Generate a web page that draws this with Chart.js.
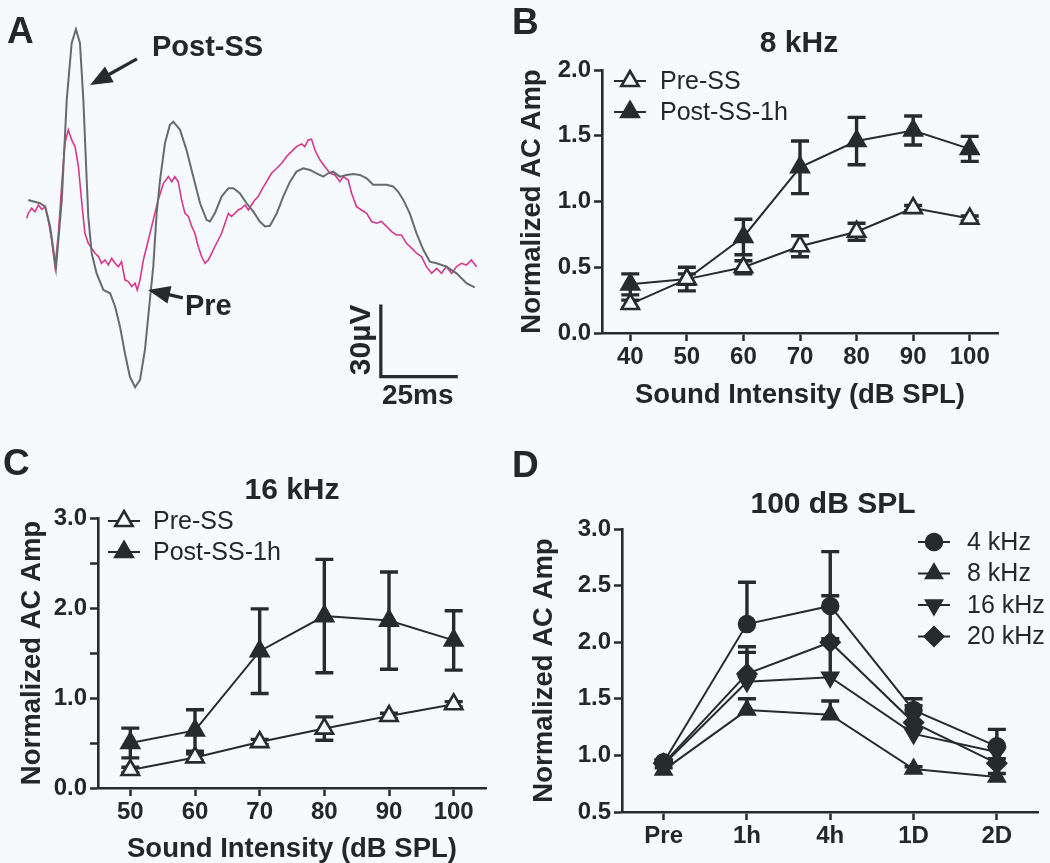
<!DOCTYPE html>
<html><head><meta charset="utf-8">
<script src="https://cdn.jsdelivr.net/npm/chart.js@4.4.1/dist/chart.umd.min.js"></script>
<style>
html,body{margin:0;padding:0;background:#f7fafc;}
#wrap{position:relative;width:1050px;height:863px;overflow:hidden;background:#f7fafc;}
canvas{position:absolute;}
</style></head><body>
<div id="wrap">
<canvas id="cA" width="500" height="420" style="left:0;top:0"></canvas>
<canvas id="cB" width="550" height="420" style="left:500px;top:0"></canvas>
<canvas id="cC" width="500" height="443" style="left:0;top:420px"></canvas>
<canvas id="cD" width="550" height="443" style="left:500px;top:420px"></canvas>
</div>
<script>
// ---------- Panel A: evoked responses (time in ms, amplitude in µV) ----------
const postTime = [0.5,4.3,6.0,7.6,9.5,11.4,13.0,14.6,16.0,17.3,
 18.4,19.3,20.0,21.1,22.7,24.9,27.1,28.7,30.3,31.9,
 33.5,35.2,36.8,38.4,40.0,41.1,42.2,43.3,44.9,46.5,
 47.6,49.8,51.9,54.1,56.3,58.4,59.5,61.1,63.3,65.5,
 67.1,69.2,71.4,73.6,75.7,77.4,79.0,81.2,83.3,85.5,
 87.6,89.8,92.0,94.1,96.3,97.9,99.5,101.7,103.9,106.0,
 108.2,110.4,112.5,114.7,116.9,119.0,120.6,122.3,124.4,126.6,
 128.8,130.9,133.1,136.3,139.6,142.8,145.5];
const postAmp = [0,-1.4,-2.8,-11.1,-28.5,0,41.7,65.3,71.1,65.3,
 41.7,13.9,-6.9,-22.2,-30.6,-37.5,-38.9,-44.4,-52.8,-63.9,
 -73.6,-78.1,-75.0,-62.5,-41.7,-27.8,-5.6,8.3,23.6,31.3,
 32.6,29.2,20.8,9.7,-1.4,-8.3,-9.0,-5.6,1.4,4.9,
 4.9,2.8,-1.4,-4.9,-9.0,-11.1,-10.8,-5.6,1.4,7.6,
 11.8,13.2,12.5,11.1,9.7,11.1,11.8,9.7,10.4,10.8,
 10.4,9.0,6.3,6.3,6.3,5.6,3.5,0,-5.6,-13.9,
 -20.8,-25.7,-26.4,-27.8,-30.6,-34.7,-36.4];
const preTime = [0,0.5,1.6,2.7,3.8,4.9,6.0,7.0,8.1,9.2,
 10.3,11.4,12.4,13.5,14.6,15.7,16.8,17.9,18.9,20.0,
 21.1,22.2,23.3,24.3,25.4,26.5,27.6,28.7,29.8,30.8,
 31.9,33.0,34.1,35.2,35.9,36.8,37.9,39.5,41.1,42.7,
 44.4,46.0,47.1,48.1,49.2,50.3,51.4,52.5,53.6,54.6,
 55.7,56.8,57.9,59.0,60.1,61.1,62.2,63.3,64.4,65.5,
 66.5,67.6,68.7,69.8,70.9,72.0,73.0,74.1,75.2,76.3,
 77.9,79.5,81.2,82.8,84.4,86.0,87.6,89.3,90.3,91.4,
 92.5,93.6,95.2,96.8,98.5,100.1,101.7,102.8,104.4,105.5,
 107.1,108.7,110.4,112.0,113.6,115.2,116.9,118.5,120.1,121.7,
 123.3,125.0,126.6,128.2,129.8,131.5,133.1,134.7,136.3,138.0,
 139.6,141.2,142.8,144.4,146.1];
const preAmp = [-7.6,-5.6,-3.5,-4.9,-2.1,-3.9,-2.8,-8.3,-16.7,-27.8,
 -13.9,6.9,23.6,29.2,25.0,22.2,13.9,-1.4,-13.9,-18.1,
 -20.1,-22.2,-23.6,-26.4,-25.0,-27.1,-24.3,-26.4,-27.8,-25.7,
 -33.3,-34.0,-36.1,-34.7,-37.5,-33.3,-25.0,-16.7,-8.3,0,
 6.9,9.7,7.6,9.7,7.6,0,-5.6,-6.9,-11.1,-13.9,
 -19.4,-23.6,-26.4,-25.0,-22.2,-19.4,-16.7,-13.9,-9.7,-5.6,
 -6.9,-5.6,-4.2,-3.5,-2.1,-4.2,-2.1,0,1.4,4.2,
 7.6,11.1,13.2,15.3,18.1,20.1,22.2,23.3,22.2,25.0,
 25.3,20.8,16.7,13.9,11.1,10.4,7.6,9.7,8.3,2.8,
 -2.8,-4.2,-5.6,-9.0,-9.7,-9.0,-11.1,-13.2,-14.6,-14.6,
 -18.1,-20.1,-22.2,-23.6,-27.8,-30.6,-28.5,-30.6,-27.8,-30.6,
 -27.8,-26.4,-27.1,-25.0,-27.8];
const scaleBarTime = [115,115,140];      // 25 ms
const scaleBarAmp  = [-43.6,-73.6,-73.6]; // 30 µV

// ---------- Panel B: 8 kHz ----------
const intensB = [40,50,60,70,80,90,100];
const preB     = [0.22,0.41,0.50,0.66,0.77,0.95,0.87];
const preBsem  = [0.03,0.04,0.05,0.08,0.065,0.02,0.02];
const postB    = [0.37,0.41,0.73,1.26,1.46,1.54,1.40];
const postBsem = [0.08,0.09,0.135,0.20,0.18,0.11,0.095];
const xTicksB  = [40,50,60,70,80,90,100];
const yTicksB  = [0,0.5,1.0,1.5,2.0];
const yLabelsB = ['0.0','0.5','1.0','1.5','2.0'];

// ---------- Panel C: 16 kHz ----------
const intensC = [50,60,70,80,90,100];
const preC     = [0.20,0.34,0.51,0.66,0.80,0.93];
const preCsem  = [0.03,0.04,0.03,0.13,0.03,0.03];
const postC    = [0.50,0.64,1.52,1.91,1.86,1.64];
const postCsem = [0.165,0.23,0.47,0.63,0.54,0.33];
const xTicksC  = [50,60,70,80,90,100];
const yTicksC  = [0,0.5,1.0,1.5,2.0,2.5,3.0];
const yLabelsC = ['0.0','','1.0','','2.0','','3.0'];

// ---------- Panel D: 100 dB SPL ----------
const timeD = ['Pre','1h','4h','1D','2D'];
const d4  = [0.94,2.16,2.32,1.40,1.08]; const d4sem  = [0.02,0.37,0.48,0.10,0.15];
const d8  = [0.87,1.40,1.36,0.88,0.81]; const d8sem  = [0.02,0.10,0.12,0.02,0.03];
const d16 = [0.92,1.65,1.69,1.19,1.03]; const d16sem = [0.02,0.26,0.34,0.05,0.04];
const d20 = [0.93,1.72,2.00,1.29,0.93]; const d20sem = [0.02,0.24,0.41,0.15,0.04];
const yTicksD  = [0.5,0.75,1.0,1.25,1.5,1.75,2.0,2.25,2.5,2.75,3.0];
const yLabelsD = ['0.5','','1.0','','1.5','','2.0','','2.5','','3.0'];

// ---------- styling ----------
const DARK = '#262b2b', TEXT = '#232727', BG = '#f7fafc';
const FAM = "'Liberation Sans', Arial, Helvetica, sans-serif";
Chart.defaults.font.family = FAM;
Chart.defaults.color = TEXT;

const errPlugin = {
  id: 'errbars',
  beforeDatasetsDraw(chart) {
    const ctx = chart.ctx, ys = chart.scales.y;
    chart.data.datasets.forEach((ds, i) => {
      if (!ds.sem) return;
      const meta = chart.getDatasetMeta(i);
      meta.data.forEach((pt, j) => {
        const raw = ds.data[j];
        const v = (typeof raw === 'object') ? raw.y : raw;
        const s = ds.sem[j];
        if (!s) return;
        const yt = ys.getPixelForValue(v + s);
        const yb = ys.getPixelForValue(ds.upOnly ? v : v - s);
        ctx.save();
        ctx.strokeStyle = DARK; ctx.lineWidth = 3.4; ctx.lineCap = 'butt';
        ctx.beginPath();
        ctx.moveTo(pt.x, yt); ctx.lineTo(pt.x, yb);
        ctx.moveTo(pt.x - 9, yt); ctx.lineTo(pt.x + 9, yt);
        if (!ds.upOnly) { ctx.moveTo(pt.x - 9, yb); ctx.lineTo(pt.x + 9, yb); }
        ctx.stroke();
        ctx.restore();
      });
    });
  }
};

const legendPlugin = {
  id: 'lineLegend',
  afterDraw(chart, args, o) {
    if (!o || o.x0 === undefined) return;
    const ctx = chart.ctx;
    chart.data.datasets.forEach((ds, i) => {
      const y = o.y0 + i * o.dy;
      ctx.save();
      ctx.strokeStyle = ds.borderColor; ctx.lineWidth = ds.borderWidth;
      ctx.beginPath(); ctx.moveTo(o.x0, y); ctx.lineTo(o.x1, y); ctx.stroke();
      ctx.fillStyle = ds.pointBackgroundColor; ctx.strokeStyle = ds.pointBorderColor;
      ctx.lineWidth = ds.pointBorderWidth;
      Chart.helpers.drawPoint(ctx, {pointStyle: ds.pointStyle, rotation: ds.pointRotation || 0,
        radius: ds.pointRadius, borderWidth: ds.pointBorderWidth}, (o.x0 + o.x1) / 2, y);
      ctx.fillStyle = TEXT; ctx.font = o.font; ctx.textAlign = 'left'; ctx.textBaseline = 'middle';
      ctx.fillText(ds.label, o.tx, y + 1);
      ctx.restore();
    });
  }
};

const annotPlugin = {
  id: 'annot',
  afterDraw(chart, args, o) {
    const ctx = chart.ctx;
    const px = (t) => t.data ? [chart.scales.x.getPixelForValue(t.x), chart.scales.y.getPixelForValue(t.y)] : [t.x, t.y];
    (o.arrows || []).forEach(a => {
      const [x0, y0] = px({data: true, x: a.x0, y: a.y0});
      const [x1, y1] = px({data: true, x: a.x1, y: a.y1});
      const ang = Math.atan2(y1 - y0, x1 - x0);
      const hl = 22, hw = 9;
      const bx = x1 - hl * Math.cos(ang), by = y1 - hl * Math.sin(ang);
      ctx.save();
      ctx.strokeStyle = DARK; ctx.fillStyle = DARK; ctx.lineWidth = 3.2;
      ctx.beginPath(); ctx.moveTo(x0, y0); ctx.lineTo(bx + 2 * Math.cos(ang), by + 2 * Math.sin(ang)); ctx.stroke();
      ctx.beginPath();
      ctx.moveTo(x1, y1);
      ctx.lineTo(bx + hw * Math.sin(ang), by - hw * Math.cos(ang));
      ctx.lineTo(bx - hw * Math.sin(ang), by + hw * Math.cos(ang));
      ctx.closePath(); ctx.fill();
      ctx.restore();
    });
    (o.texts || []).forEach(t => {
      const [x, y] = px(t);
      ctx.save();
      ctx.font = t.font; ctx.fillStyle = t.color || TEXT;
      ctx.textAlign = t.align || 'left'; ctx.textBaseline = t.baseline || 'alphabetic';
      ctx.translate(x, y); if (t.rotate) ctx.rotate(t.rotate);
      ctx.fillText(t.text, 0, 0);
      ctx.restore();
    });
  }
};
Chart.register(errPlugin, legendPlugin, annotPlugin);

const LETTER = "bold 37px " + FAM;
const TITLE = "bold 30px " + FAM;

function xyData(xs, ys) { return xs.map((x, i) => ({x: x, y: ys[i]})); }

function tickAxis(extra) {
  return Object.assign({
    grid: {display: true, drawOnChartArea: false, drawTicks: true, tickLength: 8, tickWidth: 2.5, tickColor: DARK},
    border: {display: true, width: 2.6, color: DARK},
  }, extra);
}

function yAxis(min, max, ticks, labels, width, titlePad) {
  return tickAxis({
    min: min, max: max,
    afterBuildTicks: (s) => { s.ticks = ticks.map(v => ({value: v})); },
    afterFit: (s) => { s.width = width; },
    ticks: {padding: 3, color: TEXT, font: {size: 24, weight: 'bold'}, callback: (v, i) => labels[i]},
    title: {display: true, text: 'Normalized AC Amp', color: TEXT,
      font: {size: 27.5, weight: 'bold', lineHeight: 1}, padding: {top: titlePad, bottom: 0}}
  });
}

function xLinear(min, max, ticks, height, titleText, titlePad) {
  return tickAxis({
    type: 'linear', min: min, max: max,
    afterBuildTicks: (s) => { s.ticks = ticks.map(v => ({value: v})); },
    afterFit: (s) => { s.height = height; },
    ticks: {padding: 2, color: TEXT, font: {size: 24, weight: 'bold'}, maxRotation: 0, autoSkip: false,
      callback: (v, i) => String(ticks[i])},
    title: {display: true, text: titleText, color: TEXT,
      font: {size: 27.5, weight: 'bold', lineHeight: 1}, padding: {top: 0, bottom: titlePad}}
  });
}

function triSet(label, xs, ys, sem, filled) {
  return {
    label: label, data: xyData(xs, ys), sem: sem,
    borderColor: DARK, borderWidth: 2, tension: 0,
    pointStyle: 'triangle', pointRadius: 10, pointBorderWidth: 2.6,
    pointBorderColor: DARK, pointBackgroundColor: filled ? DARK : BG
  };
}

const baseOpts = {responsive: false, animation: false, events: []};

// ---------- Chart A ----------
new Chart(document.getElementById('cA'), {
  type: 'line',
  data: {datasets: [
    {label: 'Post-SS', data: xyData(postTime, postAmp), borderColor: '#676b6b', borderWidth: 2, pointRadius: 0, tension: 0},
    {label: 'Pre', data: xyData(preTime, preAmp), borderColor: '#d8378c', borderWidth: 1.6, pointRadius: 0, tension: 0},
    {label: 'scale', data: xyData(scaleBarTime, scaleBarAmp), borderColor: DARK, borderWidth: 3.2, pointRadius: 0, tension: 0, borderJoinStyle: 'miter'}
  ]},
  options: Object.assign({}, baseOpts, {
    layout: {padding: 0},
    scales: {
      x: {type: 'linear', display: false, min: -8.67, max: 153.7},
      y: {type: 'linear', display: false, min: -91.7, max: 83.3}
    },
    plugins: {legend: {display: false}, tooltip: {enabled: false},
      annot: {
        arrows: [
          {x0: 35.8, y0: 58.75, x1: 20.6, y1: 47.9},
          {x0: 50.7, y0: -40.8, x1: 39.4, y1: -37.5}
        ],
        texts: [
          {text: 'A', x: 7, y: 43, font: LETTER},
          {text: 'Post-SS', data: true, x: 40.7, y: 60, font: "bold 29px " + FAM},
          {text: 'Pre', data: true, x: 51.4, y: -47.9, font: "bold 29px " + FAM},
          {text: '30\u00b5V', data: true, x: 108.9, y: -58.3, font: "bold 30px " + FAM, align: 'center', baseline: 'middle', rotate: -Math.PI / 2},
          {text: '25ms', data: true, x: 127.0, y: -81.7, font: "bold 28px " + FAM, align: 'center', baseline: 'middle'}
        ]
      }
    }
  })
});

// ---------- Chart B ----------
new Chart(document.getElementById('cB'), {
  type: 'line',
  data: {datasets: [
    triSet('Pre-SS', intensB, preB, preBsem, false),
    triSet('Post-SS-1h', intensB, postB, postBsem, true)
  ]},
  options: Object.assign({}, baseOpts, {
    layout: {padding: {left: 0, top: 70, right: 52, bottom: 0}},
    scales: {
      x: xLinear(35, 105, xTicksB, 87, 'Sound Intensity (dB SPL)', 11),
      y: yAxis(0, 2, yTicksB, yLabelsB, 102, 19)
    },
    plugins: {legend: {display: false}, tooltip: {enabled: false},
      lineLegend: {x0: 114, x1: 146, y0: 81, dy: 31, tx: 160, font: "25px " + FAM},
      annot: {texts: [
        {text: 'B', x: 12, y: 34, font: LETTER},
        {text: '8 kHz', x: 299, y: 52, font: TITLE, align: 'center'}
      ]}
    }
  })
});

// ---------- Chart C ----------
new Chart(document.getElementById('cC'), {
  type: 'line',
  data: {datasets: [
    triSet('Pre-SS', intensC, preC, preCsem, false),
    triSet('Post-SS-1h', intensC, postC, postCsem, true)
  ]},
  options: Object.assign({}, baseOpts, {
    layout: {padding: {left: 0, top: 98, right: 14, bottom: 0}},
    scales: {
      x: xLinear(45, 105, xTicksC, 75, 'Sound Intensity (dB SPL)', 0),
      y: yAxis(0, 3, yTicksC, yLabelsC, 98, 19)
    },
    plugins: {legend: {display: false}, tooltip: {enabled: false},
      lineLegend: {x0: 108, x1: 140, y0: 101, dy: 31, tx: 153, font: "25px " + FAM},
      annot: {texts: [
        {text: 'C', x: 3, y: 55, font: LETTER},
        {text: '16 kHz', x: 292, y: 79, font: TITLE, align: 'center'}
      ]}
    }
  })
});

// ---------- Chart D ----------
function dSet(label, ys, sem, style, radius, rot) {
  return {label: label, data: ys, sem: sem, upOnly: true,
    borderColor: DARK, borderWidth: 2, tension: 0,
    pointStyle: style, pointRadius: radius, pointRotation: rot || 0, pointBorderWidth: 1.5,
    pointBorderColor: DARK, pointBackgroundColor: DARK};
}
new Chart(document.getElementById('cD'), {
  type: 'line',
  data: {labels: timeD, datasets: [
    dSet('4 kHz', d4, d4sem, 'circle', 8.5),
    dSet('8 kHz', d8, d8sem, 'triangle', 10),
    dSet('16 kHz', d16, d16sem, 'triangle', 10, 180),
    dSet('20 kHz', d20, d20sem, 'rectRot', 10)
  ]},
  options: Object.assign({}, baseOpts, {
    layout: {padding: {left: 0, top: 109, right: 5, bottom: 0}},
    scales: {
      x: tickAxis({type: 'category', offset: true,
        grid: {display: true, drawOnChartArea: false, drawTicks: true, tickLength: 8, tickWidth: 2.5, tickColor: DARK, offset: false},
        afterFit: (s) => { s.height = 51; },
        ticks: {padding: 2, color: TEXT, font: {size: 24, weight: 'bold'}, maxRotation: 0, autoSkip: false}}),
      y: yAxis(0.5, 3.0, yTicksD, yLabelsD, 122, 31)
    },
    plugins: {legend: {display: false}, tooltip: {enabled: false},
      lineLegend: {x0: 418, x1: 450, y0: 122, dy: 31.5, tx: 467, font: "25px " + FAM},
      annot: {texts: [
        {text: 'D', x: 12, y: 57, font: LETTER},
        {text: '100 dB SPL', x: 333, y: 93, font: TITLE, align: 'center'}
      ]}
    }
  })
});
</script>
</body></html>
